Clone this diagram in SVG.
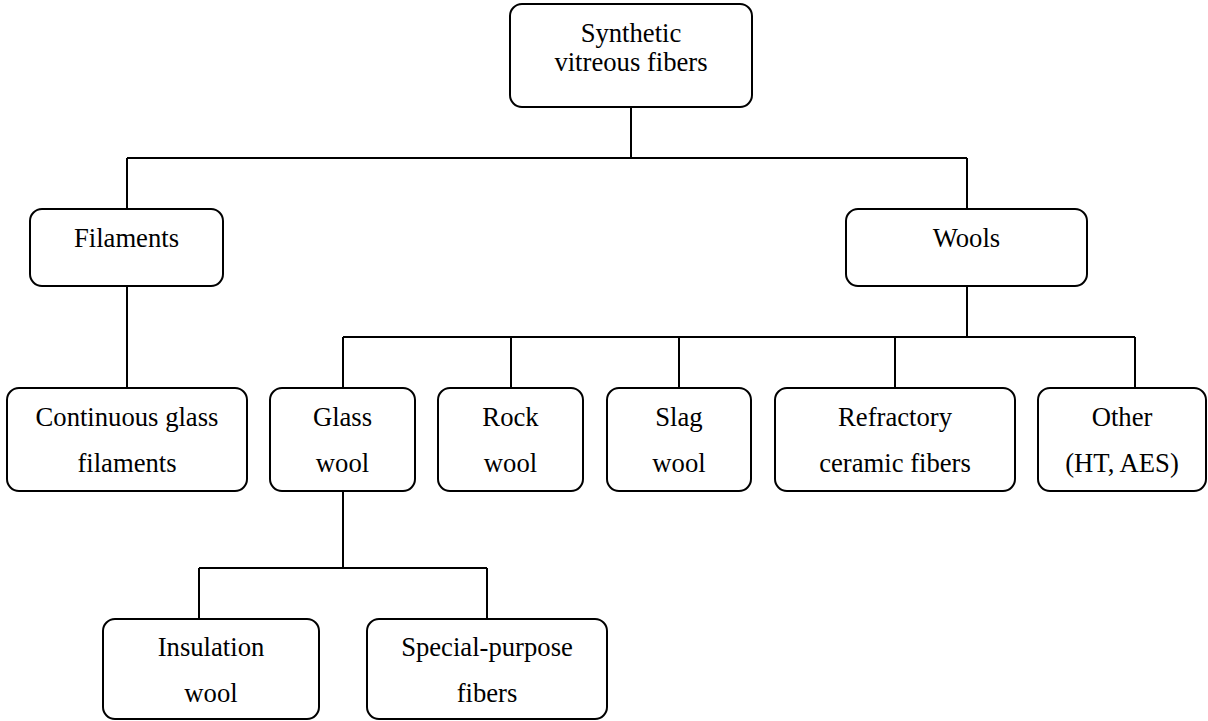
<svg xmlns="http://www.w3.org/2000/svg" width="1208" height="721" viewBox="0 0 1208 721">
<style>
.box{fill:#fff;stroke:#000;stroke-width:2}
.t{font-family:'Liberation Serif','Times New Roman',serif;font-size:26.67px;fill:#000;text-anchor:middle}
.c{fill:none;stroke:#000;stroke-width:2}
</style>
<rect width="1208" height="721" fill="#fff"/>
<g id="connectors" class="c">
<path d="M631 107V158M127 158H967M127 158V209M967 158V209"/>
<path d="M127 286V388M967 286V337M343 337H1135M343 337V388M511 337V388M679 337V388M895 337V388M1135 337V388"/>
<path d="M343 491V568M199 568H487M199 568V619M487 568V619"/>
</g>
<g id="n-svf"><rect class="box" x="510" y="4" width="242" height="103" rx="12"/><text class="t" x="631" y="42">Synthetic</text><text class="t" x="631" y="71">vitreous fibers</text></g>
<g id="n-filaments"><rect class="box" x="30" y="209" width="193" height="77" rx="12"/><text class="t" x="126.5" y="247">Filaments</text></g>
<g id="n-wools"><rect class="box" x="846" y="209" width="241" height="77" rx="12"/><text class="t" x="966.5" y="247">Wools</text></g>
<g id="n-cont"><rect class="box" x="7" y="388" width="240" height="103" rx="12"/><text class="t" x="127" y="426">Continuous glass</text><text class="t" x="127" y="472">filaments</text></g>
<g id="n-glass"><rect class="box" x="270" y="388" width="145" height="103" rx="12"/><text class="t" x="342.5" y="426">Glass</text><text class="t" x="342.5" y="472">wool</text></g>
<g id="n-rock"><rect class="box" x="438" y="388" width="145" height="103" rx="12"/><text class="t" x="510.5" y="426">Rock</text><text class="t" x="510.5" y="472">wool</text></g>
<g id="n-slag"><rect class="box" x="607" y="388" width="144" height="103" rx="12"/><text class="t" x="679" y="426">Slag</text><text class="t" x="679" y="472">wool</text></g>
<g id="n-rcf"><rect class="box" x="775" y="388" width="240" height="103" rx="12"/><text class="t" x="895" y="426">Refractory</text><text class="t" x="895" y="472">ceramic fibers</text></g>
<g id="n-other"><rect class="box" x="1038" y="388" width="168" height="103" rx="12"/><text class="t" x="1122" y="426">Other</text><text class="t" x="1122" y="472">(HT, AES)</text></g>
<g id="n-insul"><rect class="box" x="103" y="619" width="216" height="100" rx="12"/><text class="t" x="211" y="656">Insulation</text><text class="t" x="211" y="702">wool</text></g>
<g id="n-special"><rect class="box" x="367" y="619" width="240" height="100" rx="12"/><text class="t" x="487" y="656">Special-purpose</text><text class="t" x="487" y="702">fibers</text></g>
</svg>
